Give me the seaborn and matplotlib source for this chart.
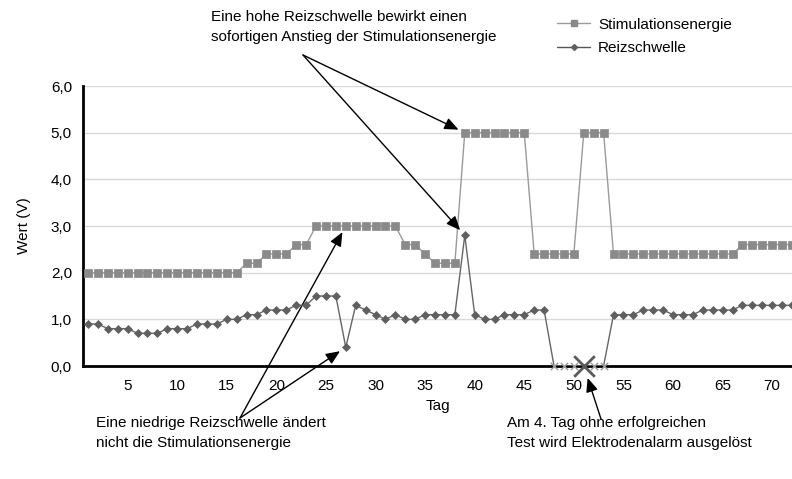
import numpy as np
import pandas as pd
import matplotlib
matplotlib.use("Agg")
import matplotlib.pyplot as plt
from matplotlib.ticker import FuncFormatter, FixedLocator, NullFormatter
from matplotlib.lines import Line2D
import seaborn as sns

# Daily values over the observation period
days = list(range(1, 73))
stim_energy = ([2.0] * 16 + [2.2] * 2 + [2.4] * 3 + [2.6] * 2 + [3.0] * 9 +
               [2.6] * 2 + [2.4] + [2.2] * 3 + [5.0] * 7 + [2.4] * 5 +
               [5.0] * 3 + [2.4] * 13 + [2.6] * 6)
threshold = [0.9, 0.9, 0.8, 0.8, 0.8, 0.7, 0.7, 0.7, 0.8, 0.8, 0.8, 0.9,
             0.9, 0.9, 1.0, 1.0, 1.1, 1.1, 1.2, 1.2, 1.2, 1.3, 1.3, 1.5,
             1.5, 1.5, 0.4, 1.3, 1.2, 1.1, 1.0, 1.1, 1.0, 1.0, 1.1, 1.1,
             1.1, 1.1, 2.8, 1.1, 1.0, 1.0, 1.1, 1.1, 1.1, 1.2, 1.2, 0.0,
             0.0, 0.0, 0.0, 0.0, 0.0, 1.1, 1.1, 1.1, 1.2, 1.2, 1.2, 1.1,
             1.1, 1.1, 1.2, 1.2, 1.2, 1.2, 1.3, 1.3, 1.3, 1.3, 1.3, 1.3]
failed_days = [48, 49, 50, 51, 52, 53]
alarm_day = 51

y_ticks = [0, 1, 2, 3, 4, 5, 6]
x_labels = [5, 10, 15, 20, 25, 30, 35, 40, 45, 50, 55, 60, 65, 70]

df = pd.DataFrame({"Tag": days, "Stimulationsenergie": stim_energy,
                   "Reizschwelle": threshold})

sns.set_theme(style="white")
plt.rcParams["font.family"] = ["Liberation Sans", "DejaVu Sans"]
plt.rcParams.update({"text.color": "black", "axes.labelcolor": "black",
                     "xtick.color": "black", "ytick.color": "black"})

W, H = 792, 479
fig = plt.figure(figsize=(W / 100, H / 100), dpi=100)
ax = fig.add_axes([83 / W, 1 - 366 / H, (W - 83) / W, (366 - 86) / H])

stim_col = "#8a8a8a"
thr_col = "#5f5f5f"
fs = 11

sns.lineplot(data=df, x="Tag", y="Stimulationsenergie", ax=ax, color="#9a9a9a",
             lw=1.0, marker="s", markersize=5.5, markerfacecolor=stim_col,
             markeredgecolor=stim_col, markeredgewidth=0.5, zorder=3)

ok_mask = [d not in failed_days for d in days]
sns.lineplot(data=df, x="Tag", y="Reizschwelle", ax=ax, color="#666666",
             lw=1.0, marker="D", markersize=4.5, markevery=ok_mask,
             markerfacecolor=thr_col, markeredgecolor=thr_col,
             markeredgewidth=0.5, zorder=4)

# failed measurement days: small crosses, alarm day: large cross
fail_df = df[df["Tag"].isin(failed_days) & (df["Tag"] != alarm_day)]
sns.scatterplot(data=fail_df, x="Tag", y="Reizschwelle", ax=ax, marker="x",
                s=28, color="#9a9a9a", linewidth=1.0, zorder=5, clip_on=False)
alarm_df = df[df["Tag"] == alarm_day]
sns.scatterplot(data=alarm_df, x="Tag", y="Reizschwelle", ax=ax, marker="x",
                s=220, color="#5a5a5a", linewidth=2.0, zorder=6, clip_on=False)

ax.set_xlim(0.5, 72.0)
ax.set_ylim(0, 6)
ax.set_yticks(y_ticks)
ax.yaxis.set_major_formatter(FuncFormatter(lambda v, p: f"{v:.1f}".replace(".", ",")))
ax.xaxis.set_major_locator(FixedLocator(x_labels))
ax.xaxis.set_minor_locator(FixedLocator(np.arange(1.5, 72, 1.0)))
ax.xaxis.set_minor_formatter(NullFormatter())
ax.tick_params(axis="x", which="major", length=0, pad=9, labelsize=fs)
ax.tick_params(axis="x", which="minor", length=5, width=1.0, direction="out")
ax.tick_params(axis="y", which="major", length=5, width=1.0,
               direction="out", labelsize=fs, pad=3)
ax.grid(axis="y", color="#d9d9d9", lw=1.0)
ax.set_axisbelow(True)
for s in ["top", "right"]:
    ax.spines[s].set_visible(False)
for s in ["left", "bottom"]:
    ax.spines[s].set_color("black")
    ax.spines[s].set_linewidth(2.0)
ax.set_xlabel("Tag", fontsize=fs, labelpad=5)
ax.set_ylabel("Wert (V)", fontsize=fs, labelpad=14)

# legend
handles = [Line2D([], [], color="#9a9a9a", lw=1.0, marker="s", markersize=4,
                  markerfacecolor=stim_col, markeredgecolor=stim_col),
           Line2D([], [], color="#555555", lw=1.0, marker="D", markersize=3,
                  markerfacecolor=thr_col, markeredgecolor=thr_col)]
fig.legend(handles, ["Stimulationsenergie", "Reizschwelle"], loc="upper left",
           bbox_to_anchor=(543 / W, 1 - 4 / H), frameon=False, fontsize=fs,
           handlelength=2.2, handletextpad=0.5, labelspacing=0.6)

txt = dict(fontsize=fs, ha="left", va="top", linespacing=1.5)
fig.text(211 / W, 1 - 10 / H,
         "Eine hohe Reizschwelle bewirkt einen\nsofortigen Anstieg der Stimulationsenergie", **txt)
fig.text(96 / W, 1 - 416 / H,
         "Eine niedrige Reizschwelle ändert\nnicht die Stimulationsenergie", **txt)
fig.text(507 / W, 1 - 416 / H,
         "Am 4. Tag ohne erfolgreichen\nTest wird Elektrodenalarm ausgelöst", **txt)

arrow = dict(arrowstyle="-|>,head_length=0.7,head_width=0.3", color="black",
             lw=1.0, shrinkA=0, shrinkB=5)

def point(day, series):
    return (day, series[days.index(day)])

for xy in [point(39, stim_energy), point(39, threshold)]:
    ax.annotate("", xy=xy, xycoords="data", xytext=(303, H - 55),
                textcoords="figure pixels", arrowprops=arrow)
for xy in [point(27, stim_energy), point(27, threshold)]:
    ax.annotate("", xy=xy, xycoords="data", xytext=(240, H - 418),
                textcoords="figure pixels", arrowprops=arrow)
ax.annotate("", xy=point(alarm_day, threshold), xycoords="data",
            xytext=(601, H - 419), textcoords="figure pixels",
            arrowprops=dict(arrow, shrinkB=9))

fig.savefig("out.png", dpi=100)
